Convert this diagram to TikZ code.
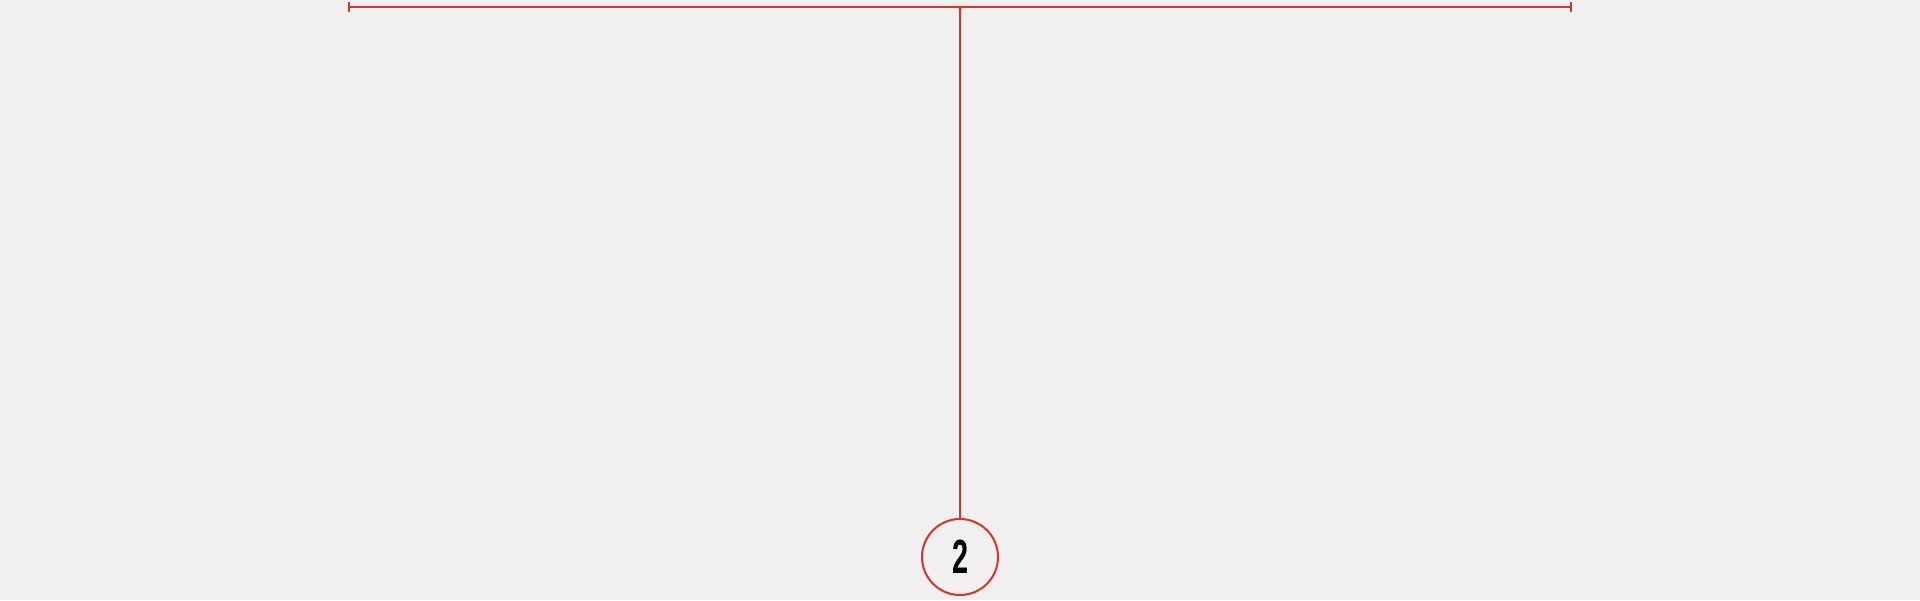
\documentclass[tikz,border=0pt]{standalone}
\usepackage{fontspec}
\setmainfont{Liberation Sans}
\definecolor{bg}{HTML}{F1EFF0}
\definecolor{rd}{HTML}{D0362B}
\begin{document}
\begin{tikzpicture}[x=1pt,y=1pt,
  redline/.style={draw=rd,line width=2pt},
  numcircle/.style={circle,draw=rd,line width=2pt,minimum size=76pt,inner sep=0pt,font=\bfseries\fontsize{48}{48}\selectfont}]
\fill[bg] (0,0) rectangle (1920,600);
\useasboundingbox (0,0) rectangle (1920,600);
\coordinate (L) at (349,593);
\coordinate (R) at (1571,593);
\coordinate (J) at (960,593);
\node[numcircle] (c) at (960,43) {\scalebox{0.6}[1]{2}};
\draw[redline] (L) -- (R);
\draw[redline] ([yshift=-5pt]L) -- ([yshift=5pt]L);
\draw[redline] ([yshift=-5pt]R) -- ([yshift=5pt]R);
\draw[redline] (J) -- (c.north);
\fill[rd] (954,593) .. controls (959,593) .. (959,587) -- (961,587) .. controls (961,593) .. (966,593) -- cycle;
\end{tikzpicture}
\end{document}
